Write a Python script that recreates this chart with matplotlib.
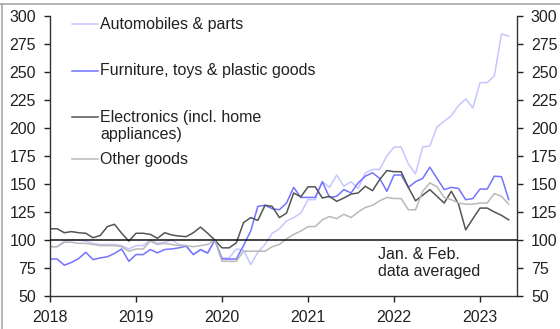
import numpy as np
import matplotlib
matplotlib.use('Agg')
import matplotlib.pyplot as plt
from matplotlib.lines import Line2D

# ── Data (monthly, Jan 2018 - May 2023, Dec 2019 = 100) ────────────
START_YEAR = 2018
N_MONTHS   = 65

autos = [
    94, 94, 99, 100, 100, 99, 97, 96, 96, 96, 95, 92,
    95, 95, 100, 97, 98, 100, 96, 95, 87, 91, 88, 100,
    84, 84, 92, 91, 78, 89, 96, 106, 110, 117, 120, 124,
    136, 136, 152, 147, 158, 148, 152, 146, 160, 163, 163, 175,
    183, 183, 168, 159, 183, 184, 201, 206, 211, 220, 226, 218,
    240.5, 240.5, 246.5, 284, 282,
]
furniture = [
    83, 83, 77.5, 80, 83.5, 89, 82.5, 84, 85, 88, 92, 81,
    87, 87, 91.5, 88.5, 91.5, 92, 93, 94.5, 87, 91.5, 88.5, 100,
    83, 83, 83, 95, 108, 130, 131, 128, 127, 133, 147, 138,
    138, 138, 152, 138, 139, 145, 142, 151, 157, 160, 155, 143.5,
    158, 158, 147, 152, 155, 165, 155, 145, 147, 146, 136, 137,
    145.5, 145.5, 157, 156.5, 136,
]
electronics = [
    110, 110, 106.5, 107.5, 106.5, 106, 102, 104, 112, 114, 106, 99,
    106, 106, 105, 101.5, 106.5, 104.5, 103.5, 103, 106.5, 111.5, 106, 100,
    93, 93, 97.5, 115.5, 120, 117.5, 131, 130, 120, 124, 142, 138.5,
    147.5, 147.5, 137.5, 139, 134.5, 137.5, 141, 142, 148, 144, 154, 162,
    161, 161, 147, 135, 140, 145, 139, 133, 143.5, 132, 109, 119,
    128.5, 128.5, 125, 122, 118,
]
other = [
    94, 94, 98, 98, 97, 97, 96, 95, 95, 95, 94, 90,
    92, 92, 99, 96, 97, 96, 95, 95, 94, 95, 96, 100,
    81, 81, 81, 90, 90, 90, 90, 94, 96, 101, 105, 108,
    112, 112, 118, 121, 119, 123, 120, 125, 129, 131, 135, 138,
    137, 137, 127, 127, 143.5, 151, 147.5, 138, 136, 133, 132, 132,
    133, 133, 141.5, 139, 132,
]

SERIES = [
    ('Automobiles & parts', autos, '#c6c6ff'),
    ('Furniture, toys & plastic goods', furniture, '#7373ff'),
    ('Electronics (incl. home\nappliances)', electronics, '#545454'),
    ('Other goods', other, '#b9b9b9'),
]
YEARS   = [2018, 2019, 2020, 2021, 2022, 2023]
Y_TICKS = list(range(50, 301, 25))

plt.rcParams['font.family'] = ['Liberation Sans', 'DejaVu Sans']

x = START_YEAR + np.arange(N_MONTHS) / 12

fig = plt.figure(figsize=(5.6, 3.29), dpi=100)
ax = fig.add_axes([50 / 560, 33 / 329, 467 / 560, 280 / 329])

for label, vals, color in SERIES:
    ax.plot(x, vals, color=color, linewidth=1.1, solid_joinstyle='round')

ax.axhline(100, color='#111111', linewidth=1.1, zorder=5)

ax.set_xlim(2018, 2023.43)
ax.set_ylim(50, 300)
ax.set_xticks(YEARS)
ax.set_yticks(Y_TICKS)

ax.spines['top'].set_visible(False)
for s in ['left', 'right', 'bottom']:
    ax.spines[s].set_color('#333333')
    ax.spines[s].set_linewidth(1.0)

ax.yaxis.set_ticks_position('both')
ax.tick_params(axis='y', labelright=True, direction='out', length=4,
               width=1.0, pad=6, labelsize=11.5, colors='#222222')
ax.tick_params(axis='x', direction='out', length=4, width=1.0, pad=6,
               labelsize=11.5, colors='#222222')

# ── Legend drawn as labels next to short line keys ─────────────────
key_x0, key_x1, text_x = 0.047, 0.103, 0.108
key_y  = [0.971, 0.804, 0.639, 0.489]
text_y = [0.971, 0.804, 0.607, 0.489]
for (label, vals, color), ky, ty in zip(SERIES, key_y, text_y):
    ax.add_line(Line2D([key_x0, key_x1], [ky, ky], color=color,
                       linewidth=1.1, transform=ax.transAxes))
    ax.text(text_x, ty, label, transform=ax.transAxes, fontsize=11.5,
            va='center', ha='left', color='#222222', linespacing=1.1)

ax.text(0.702, 0.118, 'Jan. & Feb.\ndata averaged', transform=ax.transAxes,
        fontsize=11.5, va='center', ha='left', color='#222222',
        linespacing=1.1)

# thin grey frame edge visible at top/left of the original
fig.add_artist(Line2D([0, 1], [0.988, 0.988], color='#a8a8a8',
                      linewidth=1.2, transform=fig.transFigure))
fig.add_artist(Line2D([0.003, 0.003], [0, 0.988], color='#a8a8a8',
                      linewidth=1.2, transform=fig.transFigure))

fig.savefig('out.png', dpi=100)
